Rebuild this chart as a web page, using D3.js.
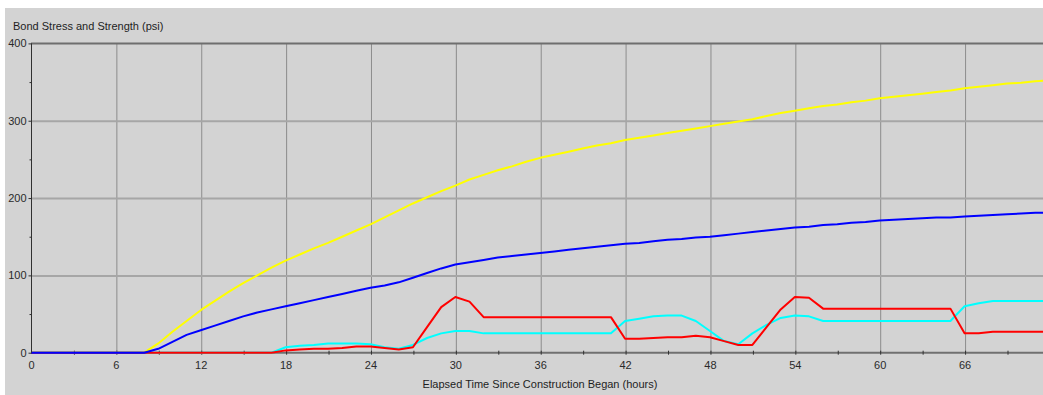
<!DOCTYPE html>
<html>
<head>
<meta charset="utf-8">
<script src="https://cdn.jsdelivr.net/npm/d3@7"></script>
<style>
  html, body { margin: 0; padding: 0; background: #ffffff; }
  svg { display: block; }
  text { font-family: "Liberation Sans", Arial, sans-serif; }
</style>
</head>
<body>
<svg id="chart" width="1043" height="395"></svg>
<script>
// Elapsed time (hours) at which each reading was taken
const hours = d3.range(0, 73);

// Bond strength (yellow)
const strengthYellow = [
  0, 0, 0, 0, 0, 0, 0, 0, 0, 12, 27, 41, 55, 67, 79, 90, 100, 110, 119, 127,
  135, 142, 150, 158, 166, 175, 184, 193, 201, 209, 216, 224, 230, 236, 241, 247, 252, 256, 260, 264,
  268, 271, 275, 278, 281, 284, 287, 290, 293, 296, 299, 302, 306, 310, 313, 316, 319, 321, 324, 326,
  329, 331, 333, 335, 337, 339, 342, 344, 346, 348, 349, 351, 352
];

// Bond strength (blue)
const strengthBlue = [
  0, 0, 0, 0, 0, 0, 0, 0, 0, 5, 14, 23, 29, 35, 41, 47, 52, 56, 60, 64,
  68, 72, 76, 80, 84, 87, 91, 97, 103, 109, 114, 117, 120, 123, 125, 127, 129, 131, 133, 135,
  137, 139, 141, 142, 144, 146, 147, 149, 150, 152, 154, 156, 158, 160, 162, 163, 165, 166, 168, 169,
  171, 172, 173, 174, 175, 175, 176, 177, 178, 179, 180, 181, 181
];

// Bond stress (red)
const stressRed = [
  0, 0, 0, 0, 0, 0, 0, 0, 0, 0, 0, 0, 0, 0, 0, 0, 0, 0, 3, 4,
  5, 5, 6, 8, 8, 6, 4, 7, 33, 59, 72, 66, 46, 46, 46, 46, 46, 46, 46, 46,
  46, 46, 18, 18, 19, 20, 20, 22, 20, 15, 10, 10, 33, 56, 72, 71, 57, 57, 57, 57,
  57, 57, 57, 57, 57, 57, 25, 25, 27, 27, 27, 27, 27
];

// Bond stress (cyan)
const stressCyan = [
  0, 0, 0, 0, 0, 0, 0, 0, 0, 0, 0, 0, 0, 0, 0, 0, 0, 0, 7, 9,
  10, 12, 12, 12, 11, 7, 5, 10, 19, 25, 28, 28, 25, 25, 25, 25, 25, 25, 25, 25,
  25, 25, 41, 44, 47, 48, 48, 41, 28, 15, 11, 25, 36, 45, 48, 47, 41, 41, 41, 41,
  41, 41, 41, 41, 41, 41, 60, 64, 67, 67, 67, 67, 67
];

const xTicks = d3.range(0, 67, 6);
const xMinorTicks = d3.range(3, 73, 3);
const yTicks = [0, 100, 200, 300, 400];
const yMinorTicks = [50, 150, 250, 350];

const chartTitle = "Bond Stress and Strength (psi)";
const xTitle = "Elapsed Time Since Construction Began (hours)";

// Draw order: later series sit on top
const series = [
  { name: "strengthYellow", values: strengthYellow, color: "#ffff00" },
  { name: "stressCyan", values: stressCyan, color: "#00ffff" },
  { name: "stressRed", values: stressRed, color: "#ff0000" },
  { name: "strengthBlue", values: strengthBlue, color: "#0000ff" }
];

const svg = d3.select("#chart");
const W = 1043, H = 395;

const x = d3.scaleLinear().domain([0, 72]).range([31, 31 + 72 * 14.145]);
const y = d3.scaleLinear().domain([0, 400]).range([352.7, 43.4]);

// panel background
svg.append("rect")
  .attr("x", 5).attr("y", 8)
  .attr("width", W - 5).attr("height", H - 8)
  .attr("fill", "#d3d3d3");

// vertical gridlines
svg.append("g")
  .attr("transform", `translate(0,${y(0)})`)
  .call(d3.axisBottom(x).tickValues(d3.range(6, 73, 6))
    .tickSize(-(y(0) - y(400))).tickFormat(""))
  .call(g => g.select(".domain").remove())
  .call(g => g.selectAll("line").attr("stroke", "#8c8c8c").attr("stroke-width", 1)
    .attr("transform", "translate(0.5,0)"));

// horizontal gridlines
svg.append("g")
  .attr("transform", `translate(${x(0)},0)`)
  .call(d3.axisRight(y).tickValues([100, 200, 300])
    .tickSize(x(72) - x(0)).tickFormat(""))
  .call(g => g.select(".domain").remove())
  .call(g => g.selectAll("line").attr("stroke", "#a6a6a6").attr("stroke-width", 2));

// top frame line at 400
svg.append("line")
  .attr("x1", x(0)).attr("x2", W)
  .attr("y1", y(400)).attr("y2", y(400))
  .attr("stroke", "#6e6e6e").attr("stroke-width", 2);

// x baseline
svg.append("line")
  .attr("x1", x(0)).attr("x2", W)
  .attr("y1", y(0)).attr("y2", y(0))
  .attr("stroke", "#707070").attr("stroke-width", 2);

// minor and major ticks crossing the baseline
svg.append("g")
  .attr("transform", `translate(0,${y(0) - 2})`)
  .call(d3.axisBottom(x).tickValues(xMinorTicks).tickSize(4).tickFormat(""))
  .call(g => g.select(".domain").remove())
  .call(g => g.selectAll("line").attr("stroke", "#303030").attr("stroke-width", 1)
    .attr("transform", "translate(0.5,0)"));

// series lines
const line = d3.line()
  .x((d, i) => x(hours[i]))
  .y(d => y(d));

svg.append("g")
  .selectAll("path")
  .data(series)
  .join("path")
  .attr("d", s => line(s.values))
  .attr("fill", "none")
  .attr("stroke", s => s.color)
  .attr("stroke-width", 2)
  .attr("stroke-linejoin", "round");

// x axis labels
const xAxis = svg.append("g")
  .attr("transform", `translate(0,${y(0)})`)
  .call(d3.axisBottom(x).tickValues(xTicks).tickSize(0).tickPadding(9)
    .tickFormat(d3.format("d")));
xAxis.select(".domain").remove();
xAxis.selectAll("text").attr("font-size", 11).attr("fill", "#2a2a2a");

// y axis
const yAxis = svg.append("g")
  .attr("transform", `translate(31.5,0)`)
  .call(d3.axisLeft(y).tickValues(yTicks).tickSize(3).tickPadding(2)
    .tickFormat(d3.format("d")));
yAxis.select(".domain").attr("stroke", "#303030").attr("d", `M0,${y(400)}V${y(0)}`);
yAxis.selectAll("line").attr("stroke", "#303030");
yAxis.selectAll("text").attr("font-size", 11).attr("fill", "#2a2a2a");

svg.append("g")
  .attr("transform", `translate(31.5,0)`)
  .call(d3.axisLeft(y).tickValues(yMinorTicks).tickSize(2).tickFormat(""))
  .call(g => g.select(".domain").remove())
  .call(g => g.selectAll("line").attr("stroke", "#303030"));

// titles
svg.append("text")
  .attr("x", 13).attr("y", 30)
  .attr("font-size", 11).attr("fill", "#1e1e1e")
  .text(chartTitle);

svg.append("text")
  .attr("x", 540).attr("y", 388)
  .attr("text-anchor", "middle")
  .attr("font-size", 11).attr("fill", "#1e1e1e")
  .text(xTitle);
</script>
</body>
</html>
